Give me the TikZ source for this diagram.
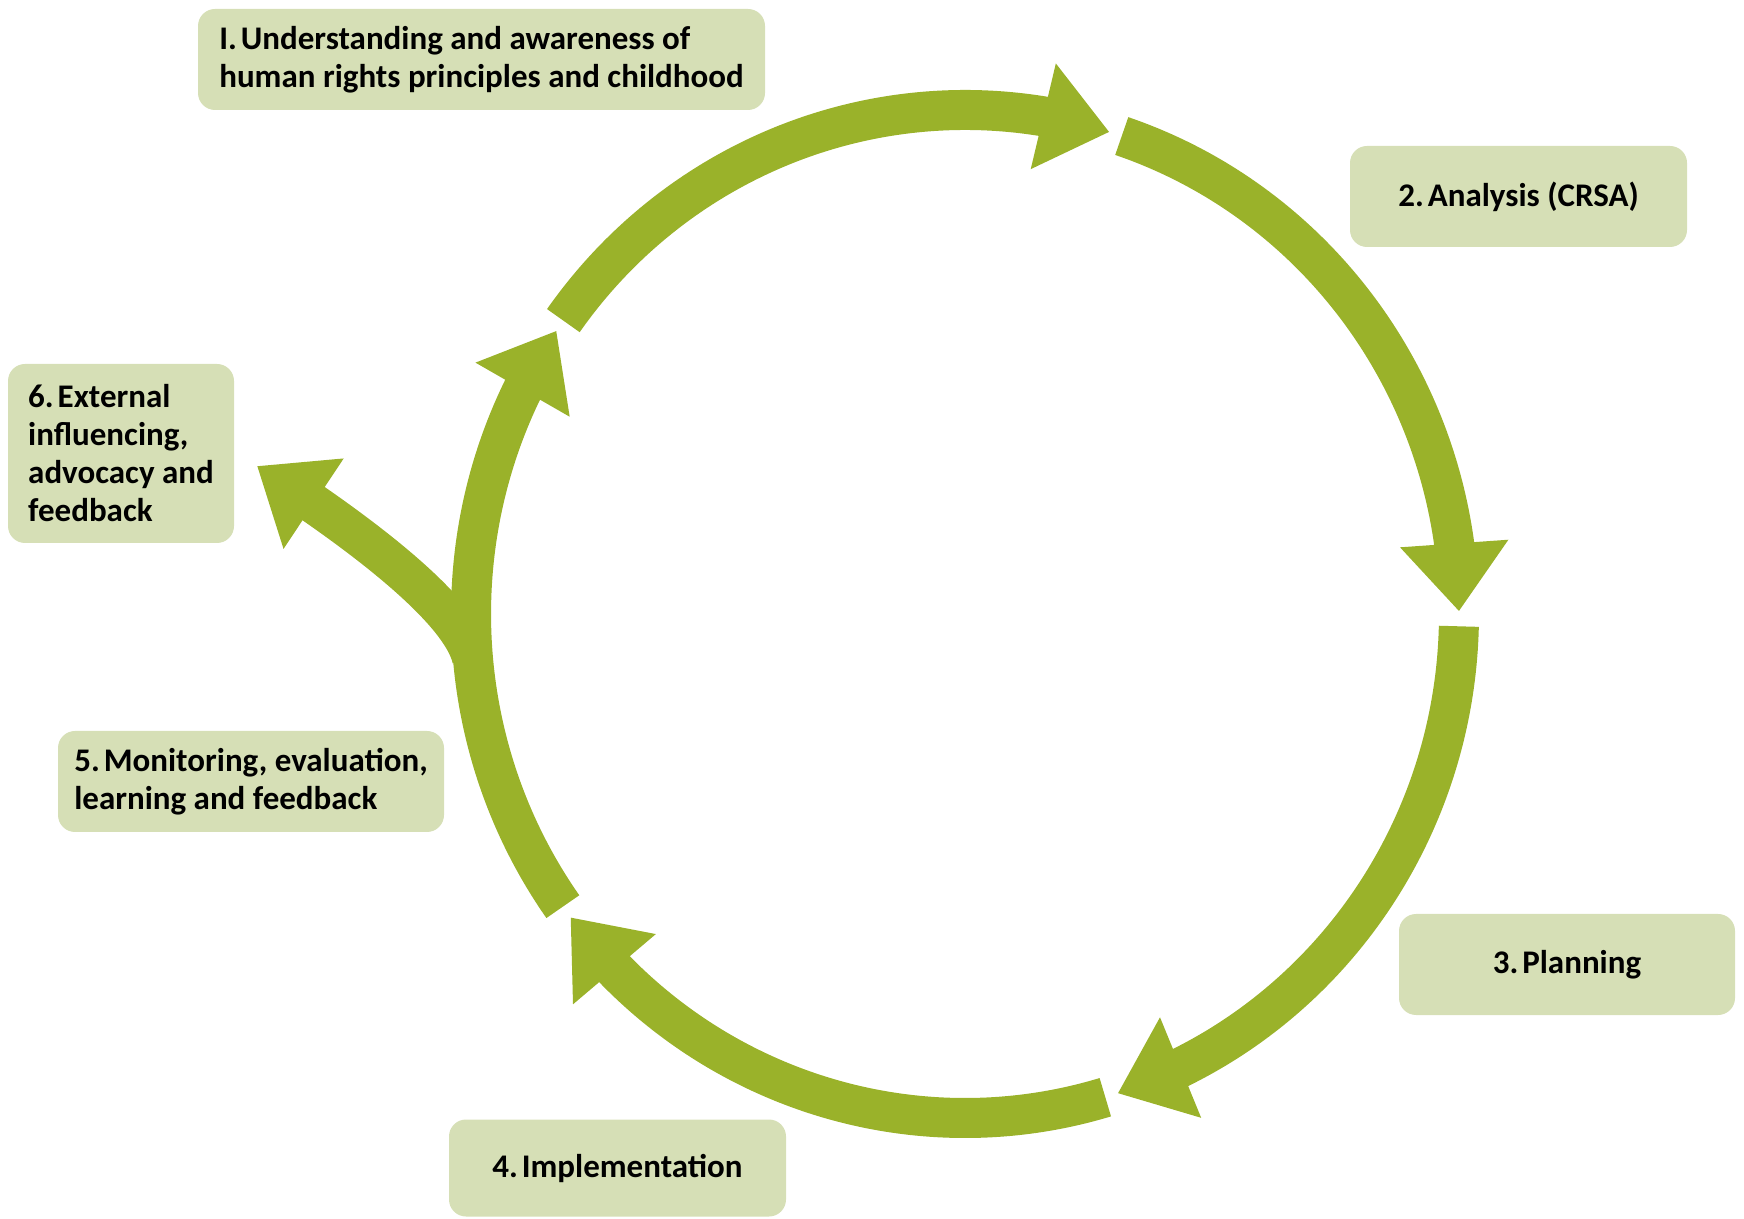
\documentclass[tikz,border=0pt]{standalone}
\usepackage{fontspec}
\setmainfont{Carlito}
\usetikzlibrary{arrows.meta,calc,bending}
\definecolor{arrowgreen}{RGB}{154,178,42}
\definecolor{boxgreen}{RGB}{214,223,182}
\newcommand\numsp{\hspace{0.12em}}
\begin{document}
\begin{tikzpicture}[x=1pt,y=1pt,
  stagebox/.style={fill=boxgreen, rounded corners=17pt, inner xsep=16pt, inner ysep=0pt, align=left,
    font=\fontsize{33}{38}\selectfont\bfseries, text=black},
  cyclearrow/.style={draw=arrowgreen, line width=40pt, -{Triangle[length=68pt,width=104pt,flex]}}]
\useasboundingbox (0,0) rectangle (1744,1218);
\coordinate (c) at (965,604);
\def\rx{494}\def\ry{504}

% stage boxes
\node[stagebox, minimum width=567pt, minimum height=101pt] (b1) at (481.5,1158.5)
  {I.\numsp Understanding and awareness of\\human rights principles and childhood};
\node[stagebox, minimum width=337pt, minimum height=101pt] (b2) at (1518.5,1021.5)
  {2.\numsp Analysis (CRSA)};
\node[stagebox, minimum width=336pt, minimum height=101pt] (b3) at (1567,253.5)
  {3.\numsp Planning};
\node[stagebox, minimum width=337pt, minimum height=97pt] (b4) at (617.5,50)
  {4.\numsp Implementation};
\node[stagebox, minimum width=386pt, minimum height=101pt] (b5) at (251,436.5)
  {5.\numsp Monitoring, evaluation,\\learning and feedback};
\node[stagebox, minimum width=226pt, minimum height=179pt] (b6) at (121,764.5)
  {6.\numsp External\\influencing,\\advocacy and\\feedback};

% cycle arcs
\draw[cyclearrow] ($(c)+(144.4:\rx pt and \ry pt)$) arc[start angle=144.4, end angle=73, x radius=\rx, y radius=\ry];
\draw[cyclearrow] ($(c)+(71.5:\rx pt and \ry pt)$) arc[start angle=71.5, end angle=0.3, x radius=\rx, y radius=\ry];
\draw[cyclearrow] ($(c)+(-1.4:\rx pt and \ry pt)$) arc[start angle=-1.4, end angle=-72, x radius=\rx, y radius=\ry];
\draw[cyclearrow] ($(c)+(-73.5:\rx pt and \ry pt)$) arc[start angle=-73.5, end angle=-143, x radius=\rx, y radius=\ry];
\draw[cyclearrow] ($(c)+(215.5:\rx pt and \ry pt)$) arc[start angle=215.5, end angle=145.8, x radius=\rx, y radius=\ry];

% branch to external influencing
\coordinate (fork) at (472,560);
\coordinate (btip) at (257,752);
\draw[cyclearrow] (fork) .. controls (460,610) and (357,688) .. (btip);
\end{tikzpicture}
\end{document}
